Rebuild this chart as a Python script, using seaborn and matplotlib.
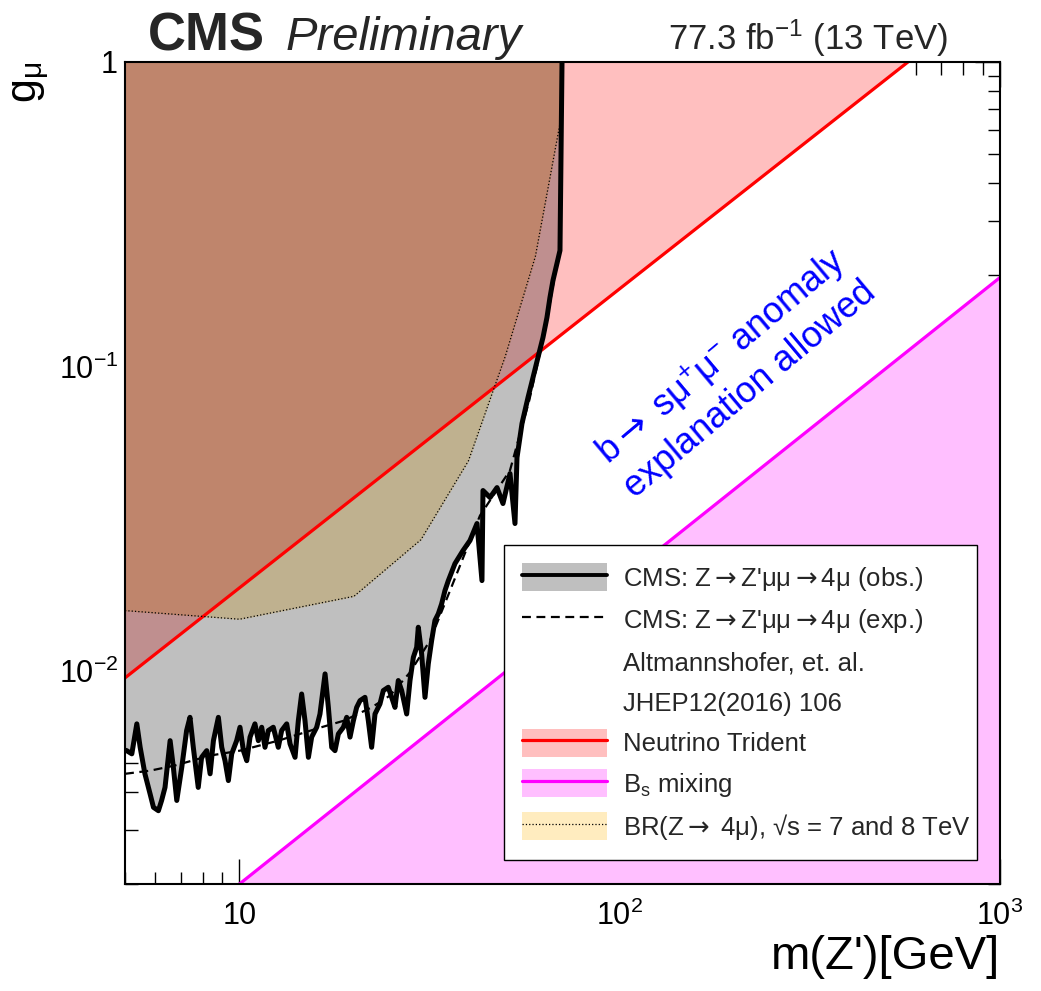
import numpy as np
import matplotlib
matplotlib.use("Agg")
import matplotlib.pyplot as plt
import seaborn as sns
from itertools import combinations
from matplotlib.patches import Patch
from matplotlib.lines import Line2D
from matplotlib.ticker import LogLocator, NullFormatter

# ---------------------------------------------------------------- data
# CMS observed 95% CL upper limit on g_mu vs m(Z') [GeV]
obs_mass = [5.00, 5.05, 5.21, 5.37, 5.48, 5.64, 5.82, 5.94, 6.12, 6.24, 6.37, 6.57, 6.70, 6.84,
            7.05, 7.26, 7.41, 7.56, 7.79, 7.95, 8.20, 8.37, 8.54, 8.80, 8.98, 9.16, 9.35, 9.54,
            9.83, 10.03, 10.24, 10.45, 10.66, 10.98, 11.21, 11.44, 11.67, 11.91, 12.27, 12.65,
            12.91, 13.31, 13.58, 14.00, 14.28, 14.57, 14.87, 15.18, 15.48, 15.96, 16.28, 16.79,
            17.13, 17.48, 17.83, 18.20, 18.76, 19.14, 19.53, 19.93, 20.33, 20.75, 21.38, 21.82,
            22.26, 22.72, 23.41, 23.89, 24.62, 25.13, 25.64, 26.16, 26.70, 27.52, 28.08, 28.66,
            29.24, 29.53, 30.13, 30.75, 31.37, 32.01, 32.66, 33.33, 34.01, 34.70, 35.41, 36.87,
            38.71, 40.38, 42.13, 43.42, 43.69, 45.59, 47.56, 49.31, 51.45, 53.03, 53.68, 55.33,
            57.38, 59.14, 60.95, 62.82, 64.36, 65.54, 66.74, 68.38, 69.64, 70.5]
obs_g = [0.0055, 0.00548, 0.00535, 0.00671, 0.00562, 0.00460, 0.00395, 0.00357, 0.00348, 0.00376,
         0.00415, 0.00591, 0.00483, 0.00376, 0.00483, 0.00638, 0.00705, 0.00562, 0.00415, 0.00521,
         0.00548, 0.00460, 0.00591, 0.00705, 0.00562, 0.00508, 0.00437, 0.00535, 0.00591, 0.00654,
         0.00548, 0.00508, 0.00607, 0.00671, 0.00591, 0.00654, 0.00562, 0.00638, 0.00654, 0.00562,
         0.00638, 0.00671, 0.00577, 0.00521, 0.00687, 0.00841, 0.00687, 0.00521, 0.00607, 0.00654,
         0.00723, 0.00979, 0.00760, 0.00562, 0.00548, 0.00622, 0.00654, 0.00705, 0.00607, 0.00687,
         0.00760, 0.00800, 0.00820, 0.00687, 0.00562, 0.00723, 0.00780, 0.00863, 0.00885, 0.00820,
         0.00760, 0.00931, 0.00863, 0.00723, 0.00931, 0.01110, 0.01197, 0.01393, 0.01139, 0.00820,
         0.01056, 0.01259, 0.01466, 0.01542, 0.01662, 0.01837, 0.0198, 0.02254, 0.02487, 0.02683,
         0.03051, 0.01982, 0.03916, 0.03714, 0.04004, 0.03549, 0.04452, 0.03051, 0.05025, 0.06499,
         0.0791, 0.0920, 0.1071, 0.1245, 0.1449, 0.1685, 0.1916, 0.2180, 0.2404, 1.0]

# CMS expected limit
exp_mass = [5.0, 5.82, 6.77, 8.37, 10.03, 12.65, 16.28, 18.8, 22.26, 24.87, 28.08, 31.7, 35.8,
            42.9, 51.45, 57.8, 63.6, 67.5, 69.6, 70.5]
exp_g = [0.0046, 0.00471, 0.0049, 0.00528, 0.00548, 0.00591, 0.00652, 0.00687, 0.0076, 0.00831,
         0.0099, 0.0126, 0.0184, 0.0324, 0.0456, 0.0773, 0.131, 0.199, 0.24, 1.0]

# BR(Z -> 4mu) constraint, 7 and 8 TeV
br_mass = [5, 10, 20, 30, 40, 50, 60, 70]
br_g = [0.0158, 0.0148, 0.0176, 0.027, 0.049, 0.108, 0.23, 0.65]

# Neutrino trident bound (excluded above)
trident_mass = [5, 573]
trident_g = [0.0095, 1.0]

# Bs mixing bound (excluded below)
bs_mass = [10, 1000]
bs_g = [0.002, 0.196]

x_ticks = [10, 100, 1000]
x_tick_labels = ["10", "$10^{2}$", "$10^{3}$"]
y_ticks = [0.01, 0.1, 1]
y_tick_labels = ["$10^{-2}$", "$10^{-1}$", "1"]

# arrow glyph taken from DejaVu Sans
ARROW = r"$\mathsf{{\rightarrow}}$"
legend_labels = [f"CMS: Z{ARROW}Z'\u03bc\u03bc{ARROW}4\u03bc (obs.)",
                 f"CMS: Z{ARROW}Z'\u03bc\u03bc{ARROW}4\u03bc (exp.)",
                 "Altmannshofer, et. al.",
                 "JHEP12(2016) 106",
                 "Neutrino Trident",
                 "B$_{s}$ mixing",
                 f"BR(Z{ARROW} 4\u03bc), \u221as = 7 and 8 TeV"]

# ---------------------------------------------------------------- style
sns.set_theme(style="ticks")
plt.rcParams["font.family"] = ["Liberation Sans", "DejaVu Sans"]
plt.rcParams["mathtext.fontset"] = "custom"
plt.rcParams["mathtext.rm"] = "Liberation Sans"
plt.rcParams["mathtext.it"] = "Liberation Sans:italic"
plt.rcParams["mathtext.bf"] = "Liberation Sans:bold"
plt.rcParams["mathtext.sf"] = "DejaVu Sans"
plt.rcParams["mathtext.default"] = "regular"
plt.rcParams["axes.unicode_minus"] = True

gray = np.array([0.75, 0.75, 0.75])
yellow = np.array([1.0, 0.925, 0.75])
pink = np.array([1.0, 0.75, 0.75])
bs_pink = (1.0, 0.75, 1.0)

ymin, ymax = 0.002, 1.0
xmin, xmax = 5, 1000

fig = plt.figure(figsize=(10.41, 9.91), dpi=100)
ax = fig.add_axes([0.1201, 0.108, 0.8405, 0.8295])
ax.set_xscale("log")
ax.set_yscale("log")

# ---------------------------------------------------------------- excluded regions
grid = np.union1d(np.logspace(np.log10(xmin), np.log10(xmax), 4000), obs_mass)


def loglog_interp(x, xp, fp, beyond):
    xp = np.asarray(xp, float)
    fp = np.asarray(fp, float)
    v = 10 ** np.interp(np.log10(x), np.log10(xp), np.log10(fp))
    return np.where((x < xp[0]) | (x > xp[-1]), beyond, np.minimum(v, beyond))


thresholds = {
    "obs": loglog_interp(grid, obs_mass, obs_g, ymax),
    "br": loglog_interp(grid, br_mass, br_g, ymax),
    "nt": loglog_interp(grid, trident_mass, trident_g, ymax),
}
fill_colors = {"obs": gray, "br": yellow, "nt": pink}
names = list(thresholds)

# each overlap of exclusions gets the product of the individual shades
for r in range(1, len(names) + 1):
    for subset in combinations(names, r):
        lower = np.max([thresholds[n] for n in subset], axis=0)
        rest = [thresholds[n] for n in names if n not in subset]
        upper = np.min(rest + [np.full_like(grid, ymax)], axis=0)
        color = np.prod([fill_colors[n] for n in subset], axis=0)
        ax.fill_between(grid, lower, upper, where=lower < upper, interpolate=True,
                        facecolor=color, edgecolor=color, linewidth=0.3, zorder=1)

ax.fill_between(bs_mass, ymin, bs_g, facecolor=bs_pink, edgecolor="none", zorder=1)

# ---------------------------------------------------------------- lines
sns.lineplot(x=trident_mass, y=trident_g, ax=ax, color="#ff0000", linewidth=2.3, zorder=3)
sns.lineplot(x=bs_mass, y=bs_g, ax=ax, color="#ff00ff", linewidth=2.3, zorder=3)
sns.lineplot(x=br_mass, y=br_g, ax=ax, color="black", linewidth=0.9, linestyle=":", zorder=3)
sns.lineplot(x=exp_mass, y=exp_g, ax=ax, color="black", linewidth=1.6,
             linestyle=(0, (4, 2.5)), zorder=4, sort=False, estimator=None)
sns.lineplot(x=obs_mass, y=obs_g, ax=ax, color="black", linewidth=3.6, zorder=5,
             sort=False, estimator=None)

# ---------------------------------------------------------------- axes
ax.set_xlim(xmin, xmax)
ax.set_ylim(ymin, ymax)
ax.set_xticks(x_ticks, x_tick_labels)
ax.set_yticks(y_ticks, y_tick_labels)
ax.xaxis.set_minor_locator(LogLocator(base=10, subs=np.arange(2, 10), numticks=100))
ax.yaxis.set_minor_locator(LogLocator(base=10, subs=np.arange(2, 10), numticks=100))
ax.xaxis.set_minor_formatter(NullFormatter())
ax.yaxis.set_minor_formatter(NullFormatter())
ax.tick_params(which="both", direction="in", top=True, right=True, color="black",
               width=1.0, labelcolor="black")
ax.tick_params(which="major", length=18, labelsize=22)
ax.tick_params(which="minor", length=9)
ax.tick_params(axis="x", which="major", pad=12)
ax.tick_params(axis="y", which="major", pad=5)
for sp in ax.spines.values():
    sp.set_visible(True)
    sp.set_color("black")
    sp.set_linewidth(1.5)
    sp.set_zorder(20)

ax.set_xlabel("m(Z')[GeV]", fontsize=34, loc="right", color="black")
ax.xaxis.set_label_coords(1.0, -0.062)
ax.set_ylabel("g$_{\u03bc}$", fontsize=31, loc="top", color="black")
ax.yaxis.set_label_coords(-0.083, 1.0)

# ---------------------------------------------------------------- annotations
fig.text(0.142, 0.9495, "CMS", fontsize=38, fontweight="bold", va="baseline")
fig.text(0.274, 0.9495, "Preliminary", fontsize=34, style="italic", va="baseline")
fig.text(0.911, 0.9495, "77.3 fb$^{-1}$ (13 TeV)", fontsize=25, ha="right", va="baseline")

ax.text(0.697, 0.623, f"b{ARROW} s\u03bc$^{{+}}$\u03bc$^{{-}}$ anomaly\nexplanation allowed",
        transform=ax.transAxes, rotation=40, rotation_mode="anchor", ha="center",
        va="center", multialignment="center", color="#0000ff", fontsize=26, zorder=6)

# ---------------------------------------------------------------- legend
blank = Patch(facecolor="none", edgecolor="none")
handles = [
    (Patch(facecolor=gray, edgecolor="none"), Line2D([], [], color="black", linewidth=2.8)),
    Line2D([], [], color="black", linewidth=1.6, linestyle=(0, (4, 2.5))),
    blank,
    blank,
    (Patch(facecolor=pink, edgecolor="none"), Line2D([], [], color="#ff0000", linewidth=2.3)),
    (Patch(facecolor=bs_pink, edgecolor="none"), Line2D([], [], color="#ff00ff", linewidth=2.3)),
    (Patch(facecolor=yellow, edgecolor="none"), Line2D([], [], color="black", linewidth=0.9, linestyle=":")),
]
leg = ax.legend(handles, legend_labels, loc="upper left", mode="expand",
                bbox_to_anchor=(0.433, 0.0, 0.5406, 0.412),
                fontsize=18.5, frameon=True, fancybox=False, edgecolor="black", facecolor="white",
                framealpha=1, borderpad=0.7, labelspacing=0.5, handlelength=3.3,
                handleheight=1.28, handletextpad=0.62, borderaxespad=0)
leg.get_frame().set_linewidth(1.0)
leg.set_zorder(10)

fig.savefig("out.png", dpi=100)
